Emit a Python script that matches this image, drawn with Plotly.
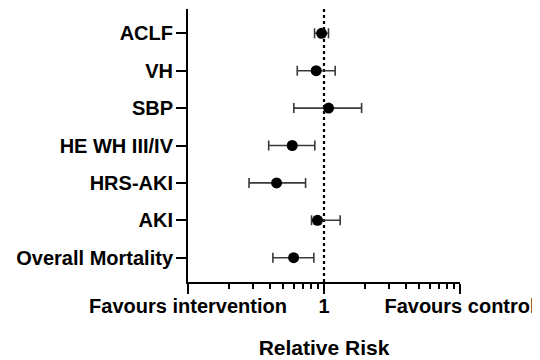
import plotly.graph_objects as go

outcomes = ["ACLF", "VH", "SBP", "HE WH III/IV", "HRS-AKI", "AKI", "Overall Mortality"]
rr = [0.96, 0.876, 1.08, 0.584, 0.448, 0.896, 0.598]
ci_low = [0.852, 0.636, 0.60, 0.392, 0.281, 0.81, 0.421]
ci_high = [1.079, 1.208, 1.89, 0.856, 0.732, 1.315, 0.842]

x_tickvals = [0.1, 1, 10]
x_ticktext = ["Favours intervention", "1", "Favours control"]

err_plus = [h - r for h, r in zip(ci_high, rr)]
err_minus = [r - l for r, l in zip(rr, ci_low)]

font_family = "Liberation Sans, Arial, Helvetica, sans-serif"

fig = go.Figure()
fig.add_trace(go.Scatter(
    x=rr, y=outcomes, mode="markers",
    marker=dict(color="black", size=11),
    error_x=dict(type="data", symmetric=False, array=err_plus, arrayminus=err_minus,
                 color="#3a3a3a", thickness=1.6, width=5),
    showlegend=False,
))

fig.add_shape(type="line", xref="x", yref="paper", x0=1, x1=1, y0=0, y1=1.005,
              line=dict(color="black", width=2.2, dash="dot"), layer="below")

# page body has an 8px default margin: figure sized/offset to compensate
fig.update_layout(
    width=532, height=352,
    margin=dict(l=180, r=80, t=1, b=78, autoexpand=False),
    plot_bgcolor="white", paper_bgcolor="white",
    font=dict(family=font_family, color="black"),
)
fig.update_xaxes(
    type="log", range=[-1, 1], automargin=False,
    tickvals=x_tickvals, ticktext=x_ticktext,
    tickfont=dict(size=20, weight="bold"), ticklabelstandoff=-5,
    ticks="outside", ticklen=10, tickwidth=2, tickcolor="black",
    minor=dict(ticks="outside", ticklen=5, tickwidth=2, tickcolor="black", dtick="D1"),
    showline=True, linewidth=2, linecolor="black", showgrid=False, zeroline=False,
    title=dict(text="Relative Risk", font=dict(size=21, weight="bold"), standoff=24),
)
fig.update_yaxes(
    type="category", categoryorder="array", categoryarray=outcomes,
    range=[6.65, -0.65], automargin=False,
    tickfont=dict(size=20, weight="bold"), ticklabelstandoff=-1,
    ticks="outside", ticklen=10, tickwidth=2, tickcolor="black",
    showline=True, linewidth=2, linecolor="black", showgrid=False, zeroline=False,
)

fig.write_html("out.html")
